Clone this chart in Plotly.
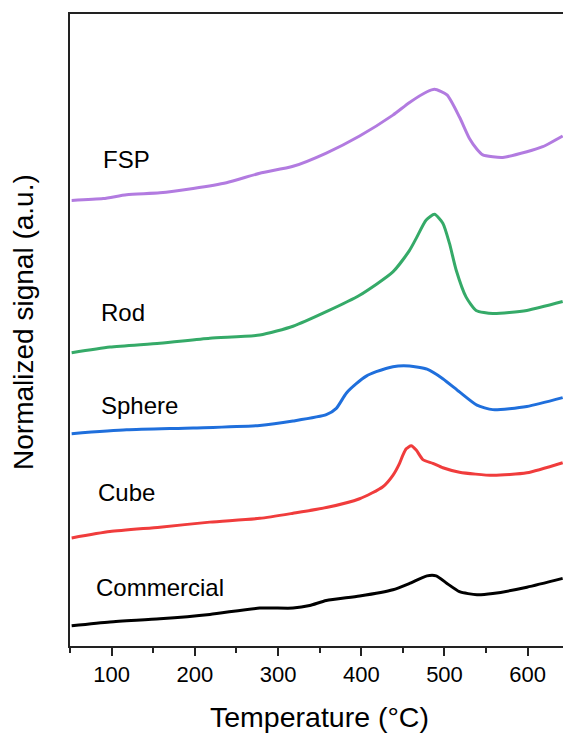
import plotly.graph_objects as go

# Temperature axis (°C) and normalized signal (a.u., vertically offset) per sample
fsp_t = [52, 90, 118, 158, 198, 238, 278, 318, 358, 398, 438, 458, 479, 488, 503, 518, 530, 539, 546, 558, 570, 599, 618, 642]
fsp_v = [7.05, 7.08, 7.14, 7.17, 7.24, 7.33, 7.48, 7.59, 7.80, 8.07, 8.40, 8.60, 8.77, 8.81, 8.72, 8.37, 8.03, 7.86, 7.77, 7.74, 7.73, 7.82, 7.90, 8.07]

rod_t = [52, 98, 158, 218, 278, 318, 358, 398, 438, 458, 466, 478, 488, 498, 506, 514, 526, 538, 558, 599, 642]
rod_v = [4.64, 4.73, 4.79, 4.87, 4.92, 5.06, 5.29, 5.55, 5.92, 6.26, 6.45, 6.74, 6.83, 6.69, 6.37, 5.95, 5.52, 5.31, 5.26, 5.31, 5.45]

sphere_t = [52, 118, 198, 278, 318, 358, 370, 382, 394, 406, 418, 438, 458, 479, 498, 518, 539, 558, 599, 642]
sphere_v = [3.36, 3.42, 3.45, 3.49, 3.56, 3.66, 3.76, 4.00, 4.15, 4.27, 4.34, 4.42, 4.43, 4.38, 4.23, 4.02, 3.81, 3.74, 3.79, 3.93]

cube_t = [52, 98, 158, 218, 278, 318, 358, 398, 426, 438, 446, 450, 454, 460, 466, 474, 486, 498, 518, 558, 599, 642]
cube_v = [1.71, 1.81, 1.88, 1.96, 2.02, 2.10, 2.19, 2.33, 2.52, 2.70, 2.89, 3.02, 3.12, 3.17, 3.10, 2.95, 2.89, 2.82, 2.75, 2.70, 2.74, 2.90]

comm_t = [52, 98, 158, 218, 278, 318, 338, 358, 398, 438, 458, 479, 490, 503, 518, 539, 558, 599, 642]
comm_v = [0.32, 0.38, 0.43, 0.50, 0.60, 0.60, 0.64, 0.72, 0.79, 0.89, 0.99, 1.11, 1.11, 0.99, 0.86, 0.81, 0.83, 0.93, 1.07]

series_names = ["FSP", "Rod", "Sphere", "Cube", "Commercial"]
series_t = [fsp_t, rod_t, sphere_t, cube_t, comm_t]
series_v = [fsp_v, rod_v, sphere_v, cube_v, comm_v]
series_colors = ["#B27BE0", "#35AA68", "#1F6FDC", "#F03C3C", "#000000"]

# label anchor points (left edge x in °C, vertical centre in a.u.)
label_x = [87, 85, 85, 81, 79]
label_y = [7.70, 5.28, 3.81, 2.43, 0.93]

FONT = "Arial, Liberation Sans, sans-serif"

fig = go.Figure()
for name, t, v, c in zip(series_names, series_t, series_v, series_colors):
    fig.add_trace(go.Scatter(
        x=t, y=v, mode="lines", name=name,
        line=dict(color=c, width=3, shape="spline", smoothing=0.6),
        showlegend=False,
    ))

annotations = []
for name, lx, ly in zip(series_names, label_x, label_y):
    annotations.append(dict(
        x=lx, y=ly, xref="x", yref="y", text=name, showarrow=False,
        xanchor="left", yanchor="middle",
        font=dict(family=FONT, size=24, color="#000"),
    ))

# axis titles
annotations.append(dict(
    x=0.5065, y=-0.113, xref="paper", yref="paper", text="Temperature (°C)",
    showarrow=False, xanchor="center", yanchor="middle",
    font=dict(family=FONT, size=28.5, color="#000"),
))
annotations.append(dict(
    x=-0.0957, y=0.5125, xref="paper", yref="paper", text="Normalized signal (a.u.)",
    showarrow=False, xanchor="center", yanchor="middle", textangle=-90,
    font=dict(family=FONT, size=28, color="#000"),
))

fig.update_layout(
    width=563, height=734,
    margin=dict(l=70, r=0, t=14, b=88),
    paper_bgcolor="white", plot_bgcolor="white",
    annotations=annotations,
    xaxis=dict(
        range=[50, 642.4], showgrid=False, zeroline=False,
        showline=True, linecolor="#222", linewidth=1.5, mirror=True,
        ticks="outside", ticklen=8, tickwidth=1.5, tickcolor="#222",
        tick0=0, dtick=100,
        minor=dict(ticks="outside", ticklen=5, tickwidth=1.5, tickcolor="#222", dtick=50, tick0=0),
        tickfont=dict(family=FONT, size=22, color="#000"),
    ),
    yaxis=dict(
        range=[0, 10], showgrid=False, zeroline=False,
        showline=True, linecolor="#222", linewidth=1.5, mirror=False,
        showticklabels=False, ticks="",
    ),
)

fig.write_html("out.html")
